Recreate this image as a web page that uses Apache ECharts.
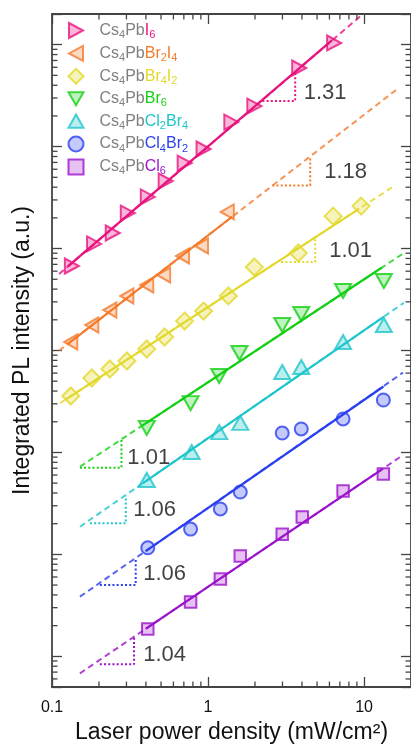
<!DOCTYPE html>
<html><head><meta charset="utf-8">
<script src="https://cdn.jsdelivr.net/npm/echarts@6/dist/echarts.min.js"></script>
<style>html,body{margin:0;padding:0;background:#fff}#c{width:411px;height:752px}</style>
</head><body><div id="c"></div>
<script>
const FONT = '"Liberation Sans", Arial, Helvetica, sans-serif';

// ---- categories / legend ----
const names = ['Cs4PbI6','Cs4PbBr2I4','Cs4PbBr4I2','Cs4PbBr6','Cs4PbCl2Br4','Cs4PbCl4Br2','Cs4PbCl6'];
const halideParts = [[['I','6']],[['Br','2'],['I','4']],[['Br','4'],['I','2']],[['Br','6']],[['Cl','2'],['Br','4']],[['Cl','4'],['Br','2']],[['Cl','6']]];
const colors = ['#e8137e','#f47b2b','#e3d82c','#14cf14','#1ec6cb','#2a3ff0','#9b12cc'];
const fills  = ['rgba(232,19,126,0.38)','rgba(244,123,43,0.35)','rgba(227,216,44,0.38)','rgba(20,207,20,0.35)','rgba(30,198,203,0.38)','rgba(42,63,240,0.35)','rgba(155,18,204,0.32)'];

// ---- measured data (x: mW/cm2, y: a.u.) ----
const xI6 = [0.134,0.186,0.245,0.306,0.411,0.535,0.708,0.936,1.41,1.98,3.84,6.43];
const yI6 = [6750,11100,14200,22300,32100,46000,69000,94800,174000,250000,590000,1040000];
const xBr2I4 = [0.132,0.180,0.235,0.302,0.405,0.520,0.687,0.909,1.33];
const yBr2I4 = [1210,1780,2500,3430,4390,5500,8450,10600,22900];
const xBr4I2 = [0.132,0.180,0.235,0.302,0.405,0.527,0.708,0.936,1.35,1.98,3.79,6.34,9.57];
const yBr4I2 = [358,537,659,789,1035,1356,1945,2438,3428,6590,9040,20800,26100];
const xBr6 = [0.405,0.773,1.18,1.59,2.99,3.96,7.34,13.4];
const yBr6 = [174,305,562,945,1778,2280,3837,4808];
const xCl2Br4 = [0.405,0.785,1.18,1.61,2.99,3.96,7.34,13.4];
const yCl2Br4 = [53.7,101,158,195,615,689,1211,1778];
const xCl4Br2 = [0.411,0.773,1.20,1.61,2.99,3.96,7.34,13.3];
const yCl4Br2 = [11.6,17.7,27.9,40.9,155,170,213,327];
const xCl6 = [0.411,0.773,1.20,1.61,2.99,4.02,7.34,13.3];
const yCl6 = [1.85,3.41,5.73,9.64,15.8,23.3,41.9,61.4];

// ---- fitted lines: dashed full range, solid over data ----
const dashI6 = [[0.111,5625],[9.85,2.0e6]];
const solidI6 = [[0.1265,6700],[6.245,1.107e6]];
const dashBr2I4 = [[0.111,995],[16.0,3.585e5]];
const solidBr2I4 = [[0.1265,1163],[1.434,2.063e4]];
const dashBr4I2 = [[0.1125,304],[15.1,3.98e4]];
const solidBr4I2 = [[0.1229,332],[9.29,2.455e4]];
const dashBr6 = [[0.151,72.4],[17.75,8900]];
const solidBr6 = [[0.3815,184.6],[13.03,6520]];
const dashCl2Br4 = [[0.151,18.68],[18.0,2938]];
const solidCl2Br4 = [[0.3815,49.8],[13.42,2150]];
const dashCl4Br2 = [[0.151,3.845],[17.75,605.8]];
const solidCl4Br2 = [[0.3987,10.77],[13.32,443.5]];
const dashCl6 = [[0.151,0.681],[17.23,91.2]];
const solidCl6 = [[0.3987,1.857],[13.03,68.3]];

// ---- slope triangles and slope labels ----
const triI6 = [[2.23,2.80e5],[3.62,2.80e5],[3.62,5.40e5]];
const triBr2I4 = [[2.583,4.155e4],[4.519,4.155e4],[4.519,8.0e4]];
const triBr4I2 = [[2.948,7380],[4.863,7380],[4.863,1.269e4]];
const triBr6 = [[0.151,70.8],[0.2788,70.8],[0.2788,134]];
const triCl2Br4 = [[0.1749,20.18],[0.2971,20.18],[0.2971,37.4]];
const triCl4Br2 = [[0.2026,5.006],[0.344,5.006],[0.344,9.21]];
const triCl6 = [[0.2026,0.835],[0.3357,0.835],[0.3357,1.565]];
const slopeLabels = ['1.31','1.18','1.01','1.01','1.06','1.06','1.04'];
const slopeLabelPos = [[5.635,3.357e5],[7.616,5.636e4],[8.2,9462],[0.4168,87.6],[0.455,27.25],[0.527,6.42],[0.527,1.03]];

// ---- axes ----
const X_MIN = 0.1, X_MAX = 20, Y_MIN = 0.5, Y_MAX = 2e6;
const xMinorMant = [2,3,4,5,6,7,8,9];
const xMinorDecades = [0.1,1];
const yMinorMant = [2,3,4,5,6,7,8,9];
const yMinorDecades = [1,10,100,1000,1e4,1e5];
const yMinorExtra = [0.6,0.7,0.8,0.9];

const xMinor = [];
xMinorDecades.forEach(d => xMinorMant.forEach(m => xMinor.push(+(m*d).toPrecision(3))));
const yMinor = yMinorExtra.slice();
yMinorDecades.forEach(d => yMinorMant.forEach(m => yMinor.push(m*d)));

const symbols = ['triangle','triangle','diamond','triangle','triangle','circle','rect'];
const rotates = [-90, 90, 0, 180, 0, 0, 0];
const legendIcons = ['path://M0,0L14,7.5L0,15Z','path://M14,0L0,7.5L14,15Z','diamond','path://M0,0L16,0L8,14Z','path://M8,0L16,14L0,14Z','circle','path://M0,0L12,0L12,12L0,12Z'];
const sizes = [[15,14],[15,13],[17,17],[16,14],[16,14],[13,13],[11.5,11.5]];
const xs = [xI6,xBr2I4,xBr4I2,xBr6,xCl2Br4,xCl4Br2,xCl6];
const ys = [yI6,yBr2I4,yBr4I2,yBr6,yCl2Br4,yCl4Br2,yCl6];
const dashes = [dashI6,dashBr2I4,dashBr4I2,dashBr6,dashCl2Br4,dashCl4Br2,dashCl6];
const solids = [solidI6,solidBr2I4,solidBr4I2,solidBr6,solidCl2Br4,solidCl4Br2,solidCl6];
const tris = [triI6,triBr2I4,triBr4I2,triBr6,triCl2Br4,triCl4Br2,triCl6];

const AX = '#444';
const series = [];
names.forEach((n, i) => {
  series.push({type:'line', data: dashes[i], symbol:'none', silent:true, z:1,
    lineStyle:{color:colors[i], width:2, type:[6,4], opacity:0.8, cap:'butt'}});
  series.push({type:'line', data: tris[i], symbol:'none', silent:true, z:1,
    lineStyle:{color:colors[i], width:2, type:[2,2.2], cap:'butt'}});
  series.push({type:'line', data: solids[i], symbol:'none', silent:true, z:2,
    lineStyle:{color:colors[i], width:2.2}});
  series.push({type:'scatter', name:n, z:3,
    data: xs[i].map((x, k) => [x, ys[i][k]]),
    symbol: symbols[i], symbolRotate: rotates[i], symbolSize: sizes[i],
    itemStyle:{color:fills[i], borderColor:colors[i], borderWidth:2}});
});
series.push({type:'scatter', silent:true, z:4, data: slopeLabelPos, symbol:'circle', symbolSize:1,
  itemStyle:{color:'rgba(0,0,0,0)'},
  label:{show:true, position:'inside', formatter: p => slopeLabels[p.dataIndex],
    fontSize:22, color:'#111', fontFamily:FONT}});
// minor ticks (log-spaced) drawn through the axes' scales
series.push({type:'custom', silent:true, z:5, data: xMinor.map(v => [v, 1]), encode:{x:0,y:1},
  renderItem:(params, api) => {
    const v = api.value(0);
    const b = api.coord([v, Y_MIN]), t = api.coord([v, Y_MAX]);
    return {type:'group', children:[
      {type:'line', shape:{x1:b[0],y1:b[1],x2:b[0],y2:b[1]-5.5}, style:{stroke:AX, lineWidth:1.3}},
      {type:'line', shape:{x1:t[0],y1:t[1],x2:t[0],y2:t[1]+5.5}, style:{stroke:AX, lineWidth:1.3}}]};
  }});
series.push({type:'custom', silent:true, z:5, data: yMinor.map(v => [1, v]), encode:{x:0,y:1},
  renderItem:(params, api) => {
    const v = api.value(1);
    const l = api.coord([X_MIN, v]), r = api.coord([X_MAX, v]);
    return {type:'group', children:[
      {type:'line', shape:{x1:l[0],y1:l[1],x2:l[0]+5.5,y2:l[1]}, style:{stroke:AX, lineWidth:1.3}},
      {type:'line', shape:{x1:r[0],y1:r[1],x2:r[0]-5.5,y2:r[1]}, style:{stroke:AX, lineWidth:1.3}}]};
  }});

const rich = {
  g0:{color:'#808080', fontSize:16, lineHeight:20, fontFamily:FONT, padding:[0,0,0,11]},
  g:{color:'#808080', fontSize:16, lineHeight:20, fontFamily:FONT},
  gs:{color:'#808080', fontSize:11, lineHeight:12, verticalAlign:'bottom', fontFamily:FONT}
};
colors.forEach((c, i) => {
  rich['c'+i] = {color:c, fontSize:16, lineHeight:20, fontFamily:FONT};
  rich['c'+i+'s'] = {color:c, fontSize:11, lineHeight:12, verticalAlign:'bottom', fontFamily:FONT};
});

const axisCommon = {
  type:'log', logBase:10,
  axisLine:{show:true, lineStyle:{color:AX, width:1.8}},
  axisTick:{show:true, inside:true, length:10, lineStyle:{color:AX, width:1.3}},
  splitLine:{show:false}, minorTick:{show:false}
};

const option = {
  animation:false,
  backgroundColor:'#fff',
  textStyle:{fontFamily:FONT},
  grid:{left:52, top:14, width:360, height:673, containLabel:false},
  legend:{
    show:true, orient:'vertical', left:62.5, top:17, itemWidth:15, itemHeight:15, itemGap:4.4,
    symbolKeepAspect:true, selectedMode:false, symbolRotate:0,
    data: names.map((n, i) => ({name:n, icon:legendIcons[i], symbolRotate:0})),
    formatter: name => {
      const i = names.indexOf(name);
      return '{g0|Cs}{gs|4}{g|Pb}' + halideParts[i].map(p => `{c${i}|${p[0]}}{c${i}s|${p[1]}}`).join('');
    },
    textStyle:{rich}
  },
  xAxis:[
    Object.assign({}, axisCommon, {position:'bottom', min:X_MIN, max:X_MAX,
      axisLabel:{show:true, fontSize:16, color:'#111', margin:13, fontFamily:FONT, showMaxLabel:false},
      name:'Laser power density (mW/cm²)', nameLocation:'middle', nameGap:32,
      nameTextStyle:{fontSize:23, color:'#111', fontFamily:FONT}}),
    Object.assign({}, axisCommon, {position:'top', min:X_MIN, max:X_MAX, axisLabel:{show:false}})
  ],
  yAxis:[
    Object.assign({}, axisCommon, {position:'left', min:Y_MIN, max:Y_MAX, axisLabel:{show:false},
      name:'Integrated PL intensity (a.u.)', nameLocation:'middle', nameGap:18,
      nameTextStyle:{fontSize:23, color:'#111', fontFamily:FONT}}),
    Object.assign({}, axisCommon, {position:'right', min:Y_MIN, max:Y_MAX, axisLabel:{show:false}})
  ],
  series
};
const chart = echarts.init(document.getElementById('c'), null, {renderer:'canvas'});
chart.setOption(option);
</script></body></html>
